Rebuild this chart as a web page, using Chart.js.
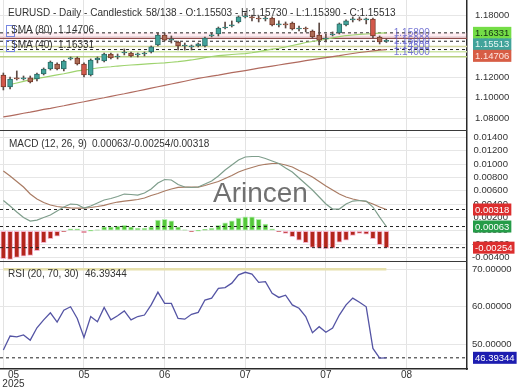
<!DOCTYPE html>
<html>
<head>
<meta charset="utf-8">
<script src="https://cdn.jsdelivr.net/npm/chart.js@4.4.1/dist/chart.umd.min.js"></script>
<style>
  body { margin: 0; background: #fff; }
  #wrap { position: relative; width: 520px; height: 390px; overflow: hidden; background: #fff;
          font-family: 'Liberation Sans', Arial, sans-serif; color: #333; }
  #wrap canvas { position: absolute; left: 0; display: block; }
  .txt { position: absolute; font-size: 10px; line-height: 10px; white-space: pre; color: #333; }
  .sep { position: absolute; left: 0; width: 467px; height: 1px; background: #3a3a3a; }
  .icon { position: absolute; left: 6px; width: 7px; height: 10px; border: 1px solid #7686e2; }
  #mark { position: absolute; left: 213px; top: 179px; font-size: 28px; line-height: 28px; color: #707070; }
</style>
</head>
<body>
<div id="wrap">
  <canvas id="priceChart" width="520" height="130" style="top:0px"></canvas>
  <canvas id="macdChart" width="520" height="131" style="top:130px"></canvas>
  <canvas id="rsiChart" width="520" height="129" style="top:261px"></canvas>
  <div class="sep" style="top:130px"></div>
  <div class="sep" style="top:261px"></div>
  <div id="mark">Arincen</div>
  <div class="txt" style="left:8px;top:8px">EURUSD - Daily - Candlestick</div>
  <div class="txt" id="ohlcText" style="left:146px;top:8px"></div>
  <div class="icon" style="top:25px"></div>
  <div class="icon" style="top:40px"></div>
  <div class="txt" style="left:11px;top:25px">SMA (80)</div>
  <div class="txt" id="sma80Text" style="left:58px;top:25px"></div>
  <div class="txt" style="left:11px;top:40px">SMA (40)</div>
  <div class="txt" id="sma40Text" style="left:58px;top:40px"></div>
  <div class="txt" style="left:9px;top:139px">MACD (12, 26, 9)</div>
  <div class="txt" id="macdText" style="left:92px;top:139px"></div>
  <div class="txt" style="left:8px;top:269px">RSI (20, 70, 30)</div>
  <div class="txt" id="rsiText" style="left:85px;top:269px"></div>
</div>
<script>
// daily candles, index 0 = first visible day
const candleOpen = [1.1223, 1.1106, 1.1194, 1.1184, 1.1194, 1.1184, 1.1232, 1.1281, 1.1330, 1.1281,
  1.1379, 1.1388, 1.1330, 1.1223, 1.1369, 1.1359, 1.1427, 1.1398, 1.1437, 1.1437,
  1.1418, 1.1427, 1.1447, 1.1515, 1.1612, 1.1563, 1.1544, 1.1505, 1.1496, 1.1505,
  1.1505, 1.1603, 1.1622, 1.1680, 1.1700, 1.1739, 1.1788, 1.1788, 1.1778, 1.1768,
  1.1778, 1.1710, 1.1720, 1.1729, 1.1671, 1.1680, 1.1651, 1.1612, 1.1573, 1.1612,
  1.1632, 1.1710, 1.1759, 1.1768, 1.1759, 1.1768, 1.1593, 1.15503];
const candleHigh = [1.1242, 1.1203, 1.1262, 1.1213, 1.1213, 1.1242, 1.1291, 1.1359, 1.1340, 1.1369,
  1.1398, 1.1398, 1.1340, 1.1379, 1.1398, 1.1437, 1.1437, 1.1427, 1.1476, 1.1447,
  1.1437, 1.1447, 1.1505, 1.1632, 1.1632, 1.1603, 1.1554, 1.1534, 1.1515, 1.1534,
  1.1593, 1.1632, 1.1690, 1.1739, 1.1749, 1.1798, 1.1827, 1.1807, 1.1798, 1.1798,
  1.1788, 1.1749, 1.1739, 1.1739, 1.1700, 1.1690, 1.1661, 1.1729, 1.1622, 1.1642,
  1.1729, 1.1759, 1.1788, 1.1788, 1.1778, 1.1778, 1.1603, 1.15730];
const candleLow = [1.1077, 1.1087, 1.1174, 1.1174, 1.1145, 1.1164, 1.1223, 1.1271, 1.1271, 1.1262,
  1.1369, 1.1320, 1.1203, 1.1213, 1.1340, 1.1349, 1.1379, 1.1379, 1.1418, 1.1398,
  1.1398, 1.1408, 1.1437, 1.1505, 1.1554, 1.1534, 1.1466, 1.1466, 1.1466, 1.1496,
  1.1496, 1.1593, 1.1603, 1.1671, 1.1690, 1.1729, 1.1778, 1.1749, 1.1739, 1.1749,
  1.1700, 1.1690, 1.1680, 1.1661, 1.1651, 1.1642, 1.1583, 1.1515, 1.1544, 1.1603,
  1.1622, 1.1700, 1.1739, 1.1749, 1.1720, 1.1583, 1.1525, 1.15390];
const candleClose = [1.1106, 1.1184, 1.1184, 1.1194, 1.1155, 1.1232, 1.1281, 1.1349, 1.1281, 1.1359,
  1.1388, 1.1330, 1.1223, 1.1369, 1.1388, 1.1427, 1.1388, 1.1408, 1.1447, 1.1408,
  1.1427, 1.1437, 1.1496, 1.1612, 1.1563, 1.1573, 1.1505, 1.1515, 1.1505, 1.1525,
  1.1583, 1.1612, 1.1680, 1.1690, 1.1710, 1.1788, 1.1798, 1.1778, 1.1768, 1.1778,
  1.1710, 1.1720, 1.1710, 1.1671, 1.1680, 1.1671, 1.1593, 1.1563, 1.1583, 1.1622,
  1.1720, 1.1749, 1.1768, 1.1759, 1.1768, 1.1603, 1.1544, 1.15513];

const sma80 = [1.0814, 1.0825, 1.0837, 1.0850, 1.0861, 1.0874, 1.0887, 1.0898, 1.0911, 1.0923,
  1.0937, 1.0950, 1.0962, 1.0976, 1.0989, 1.1001, 1.1015, 1.1028, 1.1040, 1.1054,
  1.1067, 1.1080, 1.1094, 1.1108, 1.1121, 1.1135, 1.1148, 1.1162, 1.1176, 1.1189,
  1.1201, 1.1212, 1.1222, 1.1234, 1.1245, 1.1256, 1.1266, 1.1277, 1.1289, 1.1299,
  1.1309, 1.1320, 1.1331, 1.1341, 1.1351, 1.1362, 1.1372, 1.1382, 1.1392, 1.1402,
  1.1411, 1.1422, 1.1432, 1.1442, 1.1449, 1.1457, 1.1464, 1.14706];
const sma40 = [null, 1.1130, 1.1145, 1.1161, 1.1177, 1.1189, 1.1200, 1.1211, 1.1223, 1.1235,
  1.1249, 1.1262, 1.1271, 1.1281, 1.1291, 1.1298, 1.1303, 1.1310, 1.1315, 1.1320,
  1.1324, 1.1329, 1.1334, 1.1337, 1.1341, 1.1347, 1.1353, 1.1361, 1.1369, 1.1380,
  1.1392, 1.1403, 1.1412, 1.1417, 1.1422, 1.1427, 1.1431, 1.1439, 1.1451, 1.1463,
  1.1474, 1.1483, 1.1495, 1.1510, 1.1524, 1.1539, 1.1549, 1.1559, 1.1571, 1.1585,
  1.1597, 1.1607, 1.1612, 1.1618, 1.1622, 1.1626, 1.1630, 1.16331];

// support / resistance levels with their blue captions
const levelValues = [1.158, 1.150, 1.145, 1.140];
const levelLabels = ['1.15800', '1.15000', '1.14500', '1.14000'];

const macdLine = [0.00453, 0.00370, 0.00280, 0.00198, 0.00145, 0.00160, 0.00198, 0.00235, 0.00295, 0.00355,
  0.00400, 0.00393, 0.00340, 0.00370, 0.00415, 0.00460, 0.00483, 0.00513, 0.00550, 0.00543,
  0.00535, 0.00565, 0.00625, 0.00715, 0.00768, 0.00760, 0.00693, 0.00655, 0.00648, 0.00655,
  0.00700, 0.00745, 0.00820, 0.00910, 0.00985, 0.01060, 0.01105, 0.01113, 0.01113, 0.01083,
  0.01045, 0.01008, 0.00940, 0.00880, 0.00790, 0.00700, 0.00610, 0.00505, 0.00400, 0.00325,
  0.00325, 0.00400, 0.00445, 0.00453, 0.00445, 0.00355, 0.00205, 0.00063];
const macdSignal = [0.00895, 0.00820, 0.00738, 0.00655, 0.00550, 0.00475, 0.00423, 0.00385, 0.00363, 0.00351,
  0.00343, 0.00340, 0.00340, 0.00348, 0.00363, 0.00381, 0.00408, 0.00430, 0.00445, 0.00456,
  0.00468, 0.00490, 0.00528, 0.00558, 0.00595, 0.00625, 0.00651, 0.00655, 0.00655, 0.00655,
  0.00678, 0.00708, 0.00738, 0.00783, 0.00828, 0.00880, 0.00918, 0.00948, 0.00978, 0.00996,
  0.01008, 0.01008, 0.00985, 0.00955, 0.00903, 0.00858, 0.00805, 0.00738, 0.00670, 0.00610,
  0.00550, 0.00505, 0.00475, 0.00453, 0.00438, 0.00400, 0.00355, 0.00318];
const macdHist = [-0.0042, -0.0043, -0.0040, -0.0038, -0.0037, -0.0030, -0.0018, -0.0012, -0.0008, -0.0001,
  0.0003, 0.0003, -0.0003, 0.0000, 0.0001, 0.0006, 0.0006, 0.0007, 0.0008, 0.0006,
  0.0004, 0.0004, 0.0006, 0.0016, 0.0017, 0.0015, 0.0006, 0.0001, -0.0001, 0.0000,
  0.0002, 0.0004, 0.0008, 0.0012, 0.0015, 0.0019, 0.0021, 0.0021, 0.0017, 0.0010,
  0.0003, -0.0001, -0.0004, -0.0009, -0.0014, -0.0018, -0.0025, -0.0026, -0.0027, -0.0026,
  -0.0017, -0.0014, -0.0007, -0.0004, -0.0005, -0.0012, -0.0021, -0.00254];

const rsiValues = [48.5, 52.2, 52.0, 52.5, 51.1, 54.4, 56.5, 58.4, 55.9, 59.1,
  60.0, 56.9, 51.8, 57.4, 56.0, 59.8, 56.5, 57.6, 58.9, 56.5,
  57.4, 57.8, 60.5, 63.9, 60.9, 60.9, 56.9, 56.7, 58.0, 58.5,
  61.8, 62.3, 64.9, 65.1, 66.3, 68.5, 69.2, 68.7, 66.5, 66.7,
  63.6, 62.5, 63.1, 60.5, 59.6, 57.4, 53.1, 54.7, 53.2, 54.3,
  57.8, 60.5, 62.3, 61.2, 60.0, 48.9, 46.3, 46.39344];
const rsiUpper = 70;

const xGridTicks = [0, 12, 24, 36, 48, 60];
const xLabelTicks = [1.5, 12, 24, 36, 48, 60];
const xTickLabels = [['05', '2025'], '05', '06', '07', '07', '08'];

const X_MIN = -0.5, X_MAX = 69;
const FONT = "'Liberation Sans', Arial, sans-serif";
const last = (arr) => arr[arr.length - 1];

document.getElementById('ohlcText').textContent =
  `58/138 - O:${last(candleOpen).toFixed(5)} - H:${last(candleHigh).toFixed(5)} - L:${last(candleLow).toFixed(5)} - C:${last(candleClose).toFixed(5)}`;
document.getElementById('sma80Text').textContent = last(sma80).toFixed(5);
document.getElementById('sma40Text').textContent = last(sma40).toFixed(5);
document.getElementById('macdText').textContent =
  `${last(macdLine).toFixed(5)}/${last(macdHist).toFixed(5)}/${last(macdSignal).toFixed(5)}`;
document.getElementById('rsiText').textContent = last(rsiValues).toFixed(5);

const pts = (arr) => arr.map((v, i) => ({ x: i, y: v }));
const hline = (v) => [{ x: X_MIN, y: v }, { x: X_MAX, y: v }];

function lineSet(data, color, width, extra) {
  return Object.assign({
    type: 'line', data, borderColor: color, borderWidth: width,
    pointRadius: 0, tension: 0, fill: false,
  }, extra || {});
}

function xGridScale() {
  return {
    type: 'linear', min: X_MIN, max: X_MAX, offset: false,
    grid: { color: '#e3e3e3', drawTicks: false, offset: false },
    border: { display: false },
    ticks: { display: false },
    afterBuildTicks: (s) => { s.ticks = xGridTicks.map((v) => ({ value: v })); },
    afterFit: (s) => { s.height = 0; s.paddingLeft = 0; s.paddingRight = 0; },
  };
}

function yRightScale(min, max, step, pad) {
  return {
    type: 'linear', position: 'right', min, max,
    grid: { color: '#e6e6e6', drawTicks: false },
    border: { display: true, color: '#2a2a2a', width: 1.5 },
    ticks: {
      stepSize: step, includeBounds: false, autoSkip: false, padding: pad, crossAlign: 'center',
      color: '#333', font: { size: 9.5, family: FONT },
      callback: (v) => v.toFixed(5),
    },
    afterFit: (s) => { s.width = 53; s.paddingTop = 0; s.paddingBottom = 0; },
  };
}

// coloured value boxes on the right axis, pushed apart when they collide
function valueTags(tags) {
  return {
    id: 'valueTags',
    afterDraw(chart) {
      const ctx = chart.ctx;
      const yScale = chart.scales.y;
      const left = chart.chartArea.right + 6;
      ctx.save();
      ctx.font = `9.5px ${FONT}`;
      ctx.textBaseline = 'middle';
      ctx.textAlign = 'left';
      let prev = -Infinity;
      tags.map((t) => Object.assign({ py: yScale.getPixelForValue(t.value) }, t))
        .sort((a, b) => a.py - b.py)
        .forEach((t) => {
          const y = Math.max(t.py, prev + 11.5);
          prev = y;
          const text = t.value.toFixed(5);
          const w = ctx.measureText(text).width + 4;
          ctx.fillStyle = t.bg;
          ctx.fillRect(left, y - 6, w, 12);
          ctx.fillStyle = t.fg;
          ctx.fillText(text, left + 2, y + 0.5);
        });
      ctx.restore();
    },
  };
}

const levelCaptions = {
  id: 'levelCaptions',
  afterDatasetsDraw(chart) {
    const ctx = chart.ctx;
    const yScale = chart.scales.y;
    const x = chart.scales.x.getPixelForValue(58.1);
    ctx.save();
    ctx.font = `10px ${FONT}`;
    ctx.textBaseline = 'middle';
    ctx.fillStyle = 'rgba(95, 95, 205, 0.85)';
    levelValues.forEach((v, i) => {
      ctx.fillText(levelLabels[i], x, yScale.getPixelForValue(v) - 5);
    });
    ctx.restore();
  },
};

const candleColor = (i) => {
  const body = candleClose[i] - candleOpen[i];
  if (body >= 0) return '#42a39a';
  return body < -0.009 ? '#d4574a' : '#ac6c56';
};
const candleBorder = (i) => (candleClose[i] >= candleOpen[i] ? '#2c6d67' : '#7a3b2c');

const baseOptions = {
  responsive: false,
  devicePixelRatio: 1,
  animation: false,
  events: [],
  layout: { padding: 0 },
  plugins: { legend: { display: false }, tooltip: { enabled: false } },
};

const levelColors = ['#8e4b4b', '#d3d69c', '#cfe6a8', '#b7d07e'];

new Chart(document.getElementById('priceChart'), {
  type: 'line',
  data: {
    datasets: [
      lineSet(hline(last(sma40)), 'rgba(0,0,0,0)', 0,
        { fill: { value: levelValues[0] }, backgroundColor: 'rgba(255,175,195,0.22)', order: 20 }),
      ...levelValues.map((v, i) => lineSet(hline(v), levelColors[i], i === 0 ? 1.2 : 1.5, { order: 15 })),
      lineSet(hline(last(sma40)), '#222', 1, { borderDash: [3, 3], order: 12 }),
      lineSet(hline(last(candleClose)), '#222', 1, { borderDash: [3, 3], order: 12 }),
      lineSet(hline(last(sma80)), '#222', 1, { borderDash: [3, 3], order: 12 }),
      lineSet(pts(sma80), '#b06a5e', 1.2, { order: 10 }),
      lineSet(pts(sma40), '#9ed36e', 1.2, { order: 10 }),
      {
        type: 'bar', order: 2, grouped: false, barThickness: 1,
        data: candleLow.map((l, i) => ({ x: i, y: [l, candleHigh[i]] })),
        backgroundColor: '#5d4b45',
      },
      {
        type: 'bar', order: 1, grouped: false, barThickness: 5, minBarLength: 1,
        data: candleOpen.map((o, i) => ({ x: i, y: [o, candleClose[i]] })),
        backgroundColor: (c) => candleColor(c.dataIndex),
        borderColor: (c) => candleBorder(c.dataIndex),
        borderWidth: 1, borderSkipped: false,
      },
    ],
  },
  options: Object.assign({}, baseOptions, {
    scales: { x: xGridScale(), y: yRightScale(1.0687, 1.1953, 0.02, 8) },
  }),
  plugins: [levelCaptions, valueTags([
    { value: last(sma40), bg: '#74dd46', fg: '#143014' },
    { value: last(candleClose), bg: '#41a39a', fg: '#e8f6f4' },
    { value: last(sma80), bg: '#d75d45', fg: '#fde6e0' },
  ])],
});

new Chart(document.getElementById('macdChart'), {
  type: 'line',
  data: {
    datasets: [
      {
        type: 'bar', order: 5, grouped: false, barThickness: 5, minBarLength: 1,
        data: pts(macdHist),
        backgroundColor: (c) => (macdHist[c.dataIndex] >= 0 ? '#55c83a' : '#b3261b'),
        borderColor: (c) => (macdHist[c.dataIndex] >= 0 ? '#b8f0b4' : '#f4b4cc'),
        borderWidth: 1, borderSkipped: false,
      },
      lineSet(hline(last(macdSignal)), '#222', 1, { borderDash: [3, 3], order: 4 }),
      lineSet(hline(last(macdLine)), '#222', 1, { borderDash: [3, 3], order: 4 }),
      lineSet(hline(last(macdHist)), '#222', 1, { borderDash: [3, 3], order: 4 }),
      lineSet(pts(macdSignal), '#a97b63', 1.2, { order: 2 }),
      lineSet(pts(macdLine), '#7f9e8c', 1.2, { order: 1 }),
    ],
  },
  options: Object.assign({}, baseOptions, {
    scales: { x: xGridScale(), y: yRightScale(-0.00454, 0.0151, 0.002, 5) },
  }),
  plugins: [valueTags([
    { value: last(macdSignal), bg: '#dc2e2e', fg: '#ffffff' },
    { value: last(macdLine), bg: '#259c48', fg: '#ffffff' },
    { value: last(macdHist), bg: '#dc2e2e', fg: '#ffffff' },
  ])],
});

new Chart(document.getElementById('rsiChart'), {
  type: 'line',
  data: {
    datasets: [
      lineSet([{ x: 0, y: rsiUpper }, { x: rsiValues.length - 1, y: rsiUpper }], '#e6e0ac', 2.5, { order: 5 }),
      lineSet(hline(last(rsiValues)), '#222', 1, { borderDash: [3, 3], order: 4 }),
      lineSet(pts(rsiValues), '#5454a4', 1.3, { order: 1 }),
    ],
  },
  options: Object.assign({}, baseOptions, {
    scales: {
      x: xGridScale(),
      xl: {
        type: 'linear', position: 'bottom', axis: 'x', weight: 1, min: X_MIN, max: X_MAX, offset: false,
        grid: { display: false, drawTicks: false },
        border: { display: true, color: '#2a2a2a', width: 1.5 },
        ticks: {
          padding: 2, maxRotation: 0, autoSkip: false, color: '#333',
          font: { size: 10, family: FONT, lineHeight: 0.9 },
          callback: (v, i) => xTickLabels[i],
        },
        afterBuildTicks: (s) => { s.ticks = xLabelTicks.map((v) => ({ value: v })); },
        afterFit: (s) => { s.height = 21; s.paddingLeft = 0; s.paddingRight = 0; },
      },
      y: yRightScale(43.41, 72.21, 10, 5),
    },
  }),
  plugins: [valueTags([{ value: last(rsiValues), bg: '#1d1db0', fg: '#ffffff' }])],
});
</script>
</body>
</html>
